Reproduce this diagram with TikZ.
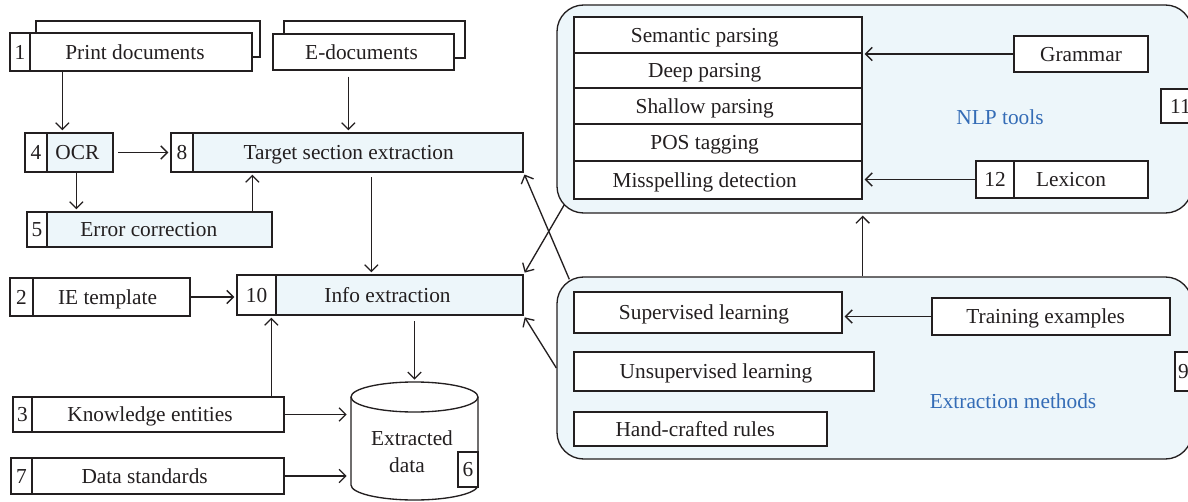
\documentclass[tikz,border=0pt]{standalone}
\usepackage{fontspec}
\setmainfont{Liberation Serif}
\usetikzlibrary{fit,arrows.meta,calc}
\definecolor{pale}{RGB}{237,246,250}
\definecolor{ink}{RGB}{35,31,32}
\definecolor{nblue}{RGB}{52,108,182}
\tikzset{
  t/.style={font=\fontsize{16}{18}\selectfont, inner sep=0pt, text height=10.6pt, text depth=0pt, text=ink},
  bx/.style={draw=ink, line width=1pt, fill=white, inner sep=0pt},
  fbx/.style={bx, fill=pale},
  grp/.style={draw=ink, line width=1pt, fill=pale, rounded corners=20pt, inner sep=0pt},
  arr/.style={draw=ink, line width=1pt, shorten >=1.5pt, -{Straight Barb[length=5pt,width=10pt]}},
}
\begin{document}
\begin{tikzpicture}[x=0.75pt,y=-0.75pt]
\useasboundingbox (0,0) rectangle (1188,502);
\clip (0,0) rectangle (1188,502);

% groups
\node[grp, fit={(557,5)(1192,213)}] (nlp) {};
\node[grp, fit={(557,277)(1192,459)}] (ext) {};
\node[t, text=nblue] (nlpt) at (1000,117) {NLP tools};
\node[t, text=nblue] (extt) at (1013,401) {Extraction methods};

% NLP list
\node[bx, fit={(574,17)(862,53)}, label={[t,xshift=-10pt]center:Semantic parsing}] (sem) {};
\node[bx, fit={(574,53)(862,88)}, label={[t,xshift=-10pt]center:Deep parsing}] (deep) {};
\node[bx, fit={(574,88)(862,124)}, label={[t,xshift=-10pt]center:Shallow parsing}] (shal) {};
\node[bx, fit={(574,124)(862,161)}, label={[t,xshift=-10pt]center:POS tagging}] (pos) {};
\node[bx, fit={(574,161)(862,199)}, label={[t,xshift=-10pt]center:Misspelling detection}] (misp) {};
\node[bx, fit={(1014,36)(1148,72)}, label={[t]center:Grammar}] (gram) {};
\node[bx, fit={(976,161)(1014,198)}, label={[t]center:12}] (lex12) {};
\node[bx, fit={(1014,161)(1148,198)}, label={[t,xshift=-7.5pt]center:Lexicon}] (lex) {};
\node[bx, fit={(1161,89)(1200,123)}, label={[t]center:11}] (n11) {};

% extraction methods
\node[bx, fit={(574,292)(842,333)}, label={[t,xshift=-3pt]center:Supervised learning}] (sup) {};
\node[bx, fit={(574,352)(874,391)}, label={[t,xshift=-6pt]center:Unsupervised learning}] (unsup) {};
\node[bx, fit={(574,412)(827,446)}, label={[t,xshift=-4pt]center:Hand-crafted rules}] (hand) {};
\node[bx, fit={(932,298)(1170,335)}, label={[t,xshift=-4pt]center:Training examples}] (train) {};
\node[bx, fit={(1175,352)(1200,391)}, label={[t,xshift=-3pt]center:9}] (n9) {};

% left side
\node[bx, fit={(36,21)(260,57)}] (pdb) {};
\node[bx, fit={(10,33)(30,71)}, label={[t]center:1}] (pd1) {};
\node[bx, fit={(30,33)(252,71)}, label={[t,xshift=-4.5pt]center:Print documents}] (pd) {};
\node[bx, fit={(284,21)(465,58)}] (edb) {};
\node[bx, fit={(273,34)(454,70)}, label={[t,xshift=-1.5pt]center:E-documents}] (ed) {};
\node[bx, fit={(25,133)(47,172)}, label={[t]center:4}] (ocr4) {};
\node[fbx, fit={(47,133)(113,172)}, label={[t,xshift=-2pt]center:OCR}] (ocr) {};
\node[bx, fit={(171,133)(193,172)}, label={[t]center:8}] (tse8) {};
\node[fbx, fit={(193,133)(523,172)}, label={[t,xshift=-7pt]center:Target section extraction}] (tse) {};
\node[bx, fit={(27,212)(47,247)}, label={[t]center:5}] (ec5) {};
\node[fbx, fit={(47,212)(272,247)}, label={[t,xshift=-8pt]center:Error correction}] (ec) {};
\node[bx, fit={(10,278)(33,316)}, label={[t]center:2}] (ie2) {};
\node[bx, fit={(33,278)(190,316)}, label={[t,xshift=-3pt]center:IE template}] (ie) {};
\node[bx, fit={(237,275)(276,315)}, label={[t]center:10}] (info10) {};
\node[fbx, fit={(276,275)(523,315)}, label={[t,xshift=-9pt]center:Info extraction}] (info) {};
\node[bx, fit={(13,397)(32,432)}, label={[t]center:3}] (ke3) {};
\node[bx, fit={(32,397)(284,432)}, label={[t,xshift=-6pt]center:Knowledge entities}] (ke) {};
\node[bx, fit={(11,458)(32,494)}, label={[t]center:7}] (ds7) {};
\node[bx, fit={(32,458)(284,494)}, label={[t,xshift=-10pt]center:Data standards}] (ds) {};

% cylinder
\node[fit={(351,382)(478,500)}, inner sep=0pt] (db) {};
\path[draw=ink, line width=1pt, fill=white] (351,397) -- (351,485) arc[start angle=180, end angle=360, x radius=47.625pt, y radius=11.25pt] -- (478,397);
\draw[ink, line width=1pt, fill=white] (414.5,397) ellipse [x radius=47.625pt, y radius=11.25pt];
\node[t] (dbt1) at (412,438) {Extracted};
\node[t] (dbt2) at (407,465) {data};
\node[bx, fit={(458,452)(478,487)}, label={[t]center:6}] (n6) {};

% connectors
\coordinate (p1) at ($(pd.south west)+(33,0)$);
\draw[arr] (p1) -- (p1 |- ocr.north);
\coordinate (p2) at ($(ed.south west)+(76,0)$);
\draw[arr, shorten <=4.5pt] (p2) -- (p2 |- tse.north);
\draw[arr, shorten <=3.5pt] (ocr.east) -- (tse8.west);
\coordinate (p3) at ($(ocr.south west)+(30,0)$);
\draw[arr] (p3) -- (p3 |- ec.north);
\coordinate (p4) at ($(ec.north west)+(206,0)$);
\draw[arr] (p4) -- (p4 |- tse.south);
\coordinate (p5) at ($(tse.south west)+(179,0)$);
\draw[arr, shorten <=3.5pt] (p5) -- (p5 |- info.north);
\draw[arr] (ie.east) -- (ie.east -| info10.west);
\coordinate (p6) at ($(ke.north west)+(240,0)$);
\draw[arr] (p6) -- (p6 |- info10.south);
\draw[arr, shorten >=3pt] (ke.east) -- (ke.east -| db.west);
\draw[arr, shorten >=3pt] (ds.east) -- (ds.east -| db.west);
\draw[arr, shorten <=4pt] (db.north |- info.south) -- (db.north);
\draw[arr] (gram.west) -- (gram.west -| sem.east);
\draw[arr] (lex12.west) -- (lex12.west -| misp.east);
\draw[arr] (train.west) -- (train.west -| sup.east);
\draw[arr] (ext.north -| misp.east) -- (nlp.south -| misp.east);
\draw[arr] ($(ext.north west)+(13,3)$) -- (tse.south east);
\draw[arr] ($(nlp.south west)+(8,-9)$) -- (info.north east);
\draw[arr] (ext.west) -- (info.south east);
\end{tikzpicture}
\end{document}
